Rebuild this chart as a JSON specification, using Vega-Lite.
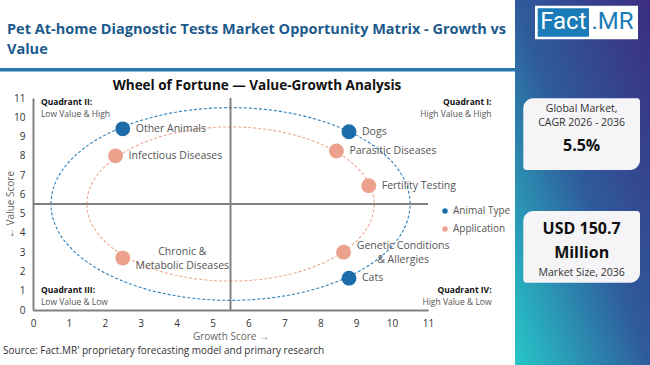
{
  "$schema": "https://vega.github.io/schema/vega-lite/v6.json",
  "padding": 0,
  "background": "#ffffff",
  "spacing": 0,
  "title": {"text": ["Pet At-home Diagnostic Tests Market Opportunity Matrix - Growth vs", "Value"], "anchor": "start", "frame": "bounds", "orient": "top", "offset": -58, "dx": 7, "fontSize": 14.5, "fontWeight": "bold", "color": "#1d5a8c", "lineHeight": 20.7},
  "config": {
    "font": "Open Sans",
    "view": {"stroke": null},
    "axis": {"grid": false, "ticks": false, "tickSize": 0, "labelFlush": false, "labelOverlap": false, "labelBound": false, "domainColor": "#808080", "domainWidth": 2, "labelFontSize": 10, "labelColor": "#333333", "labelPadding": 8, "titleFontSize": 10, "titleFontWeight": "normal", "titleColor": "#666666"},
    "axisX": {"titlePadding": 3},
    "axisY": {"titlePadding": -2}
  },
  "datasets": {
    "points": [
      {"label": "Dogs", "type": "Animal Type", "growth": 8.8, "value": 9.25},
      {"label": "Cats", "type": "Animal Type", "growth": 8.8, "value": 1.65},
      {"label": "Other Animals", "type": "Animal Type", "growth": 2.5, "value": 9.4},
      {"label": "Parasitic Diseases", "type": "Application", "growth": 8.45, "value": 8.25},
      {"label": "Fertility Testing", "type": "Application", "growth": 9.35, "value": 6.45},
      {"label": ["Genetic Conditions", "& Allergies"], "type": "Application", "growth": 8.65, "value": 3.0},
      {"label": "Infectious Diseases", "type": "Application", "growth": 2.3, "value": 8.0},
      {"label": ["Chronic &", "Metabolic Diseases"], "type": "Application", "growth": 2.5, "value": 2.7}
    ],
    "quadrants": [
      {"quadrant": "Quadrant I:", "desc": "High Value & High", "growth": 12.77, "value": 10.79},
      {"quadrant": "Quadrant II:", "desc": "Low Value & High", "growth": 0.22, "value": 10.79},
      {"quadrant": "Quadrant III:", "desc": "Low Value & Low", "growth": 0.22, "value": 1.04},
      {"quadrant": "Quadrant IV:", "desc": "High Value & Low", "growth": 12.77, "value": 1.04}
    ],
    "cards": [
      {"card": "CAGR", "caption": ["Global Market,", "CAGR 2026 - 2036"], "main": "5.5%"},
      {"card": "Size", "caption": "Market Size, 2036", "main": ["USD 150.7", "Million"]}
    ]
  },
  "hconcat": [
    {
      "spacing": 0,
      "bounds": "flush",
      "title": {"text": "Source: Fact.MR' proprietary forecasting model and primary research", "orient": "bottom", "anchor": "start", "frame": "bounds", "offset": 5, "dx": 3, "fontSize": 10, "fontWeight": "normal", "color": "#333333"},
      "vconcat": [
        {"width": 515, "height": 68, "data": {"values": []}, "mark": "point"},
        {"width": 515, "height": 3.5, "view": {"fill": "#2a79b3", "stroke": null}, "data": {"values": []}, "mark": "point"},
        {"width": 515, "height": 25.5, "data": {"values": []}, "mark": "point"},
        {
          "spacing": 0,
          "bounds": "flush",
          "hconcat": [
            {"width": 33, "height": 212, "data": {"values": []}, "mark": "point"},
            {
              "width": 395,
              "height": 212,
              "title": {"text": "Wheel of Fortune — Value-Growth Analysis", "anchor": "middle", "frame": "group", "orient": "top", "dx": 26.5, "offset": 1, "fontSize": 13.5, "fontWeight": "bold", "color": "#111111"},
              "encoding": {
                "x": {"field": "growth", "type": "quantitative", "scale": {"domain": [0, 11], "nice": false, "zero": false}, "axis": {"title": "Growth Score →", "values": [0, 1, 2, 3, 4, 5, 6, 7, 8, 9, 10, 11], "labelOverlap": false}},
                "y": {"field": "value", "type": "quantitative", "scale": {"domain": [0, 11], "nice": false, "zero": false}, "axis": {"title": "← Value Score", "values": [0, 1, 2, 3, 4, 5, 6, 7, 8, 9, 10, 11], "labelOverlap": false}}
              },
              "layer": [
                {
                  "data": {"values": [{"ring": "Animal Type", "growth": 5.5, "value": 5.5}]},
                  "mark": {"type": "point", "shape": "M-1,0A1,0.5367,0,1,1,1,0A1,0.5367,0,1,1,-1,0Z", "size": 128953, "filled": false, "color": "#2f80bd", "strokeWidth": 1.1, "strokeDash": [3, 2], "opacity": 1}
                },
                {
                  "data": {"values": [{"ring": "Application", "growth": 5.5, "value": 5.5}]},
                  "mark": {"type": "point", "shape": "M-1,0A1,0.5367,0,1,1,1,0A1,0.5367,0,1,1,-1,0Z", "size": 82526, "filled": false, "color": "#efa892", "strokeWidth": 1.1, "strokeDash": [3, 2], "opacity": 1}
                },
                {
                  "data": {"values": [{"line": "vertical", "growth": 5.5, "value": 0, "value_end": 11}]},
                  "mark": {"type": "rule", "color": "#808080", "strokeWidth": 2},
                  "encoding": {"y2": {"field": "value_end"}}
                },
                {
                  "data": {"values": [{"line": "horizontal", "growth": 0, "growth_end": 11, "value": 5.5}]},
                  "mark": {"type": "rule", "color": "#808080", "strokeWidth": 2},
                  "encoding": {"x2": {"field": "growth_end"}}
                },
                {
                  "data": {"name": "points"},
                  "mark": {"type": "circle", "size": 220, "opacity": 1},
                  "encoding": {
                    "color": {"field": "type", "type": "nominal", "scale": {"domain": ["Animal Type", "Application"], "range": ["#1c6ca9", "#eba18b"]},
                      "legend": {"title": null, "orient": "none", "legendX": 440, "legendY": 206, "symbolType": "circle", "symbolSize": 30, "symbolStrokeWidth": 0, "labelFontSize": 10, "labelColor": "#555555", "rowPadding": 8, "labelOffset": 3, "padding": 0}}
                  }
                },
                {
                  "data": {"name": "points"},
                  "transform": [{"filter": "!isArray(datum.label)"}],
                  "mark": {"type": "text", "align": "left", "baseline": "middle", "dx": 13, "fontSize": 10.5, "color": "#555555"},
                  "encoding": {"text": {"field": "label"}}
                },
                {
                  "data": {"name": "points"},
                  "transform": [{"filter": "isArray(datum.label)"}],
                  "mark": {"type": "text", "align": "center", "baseline": "middle", "dx": 59.5, "dy": -6, "lineHeight": 14, "fontSize": 10.5, "color": "#555555"},
                  "encoding": {"text": {"field": "label"}}
                },
                {
                  "data": {"name": "quadrants"},
                  "transform": [{"filter": "datum.growth < 5.5"}],
                  "mark": {"type": "text", "align": "left", "baseline": "middle", "fontSize": 8.5, "fontWeight": "bold", "color": "#111111"},
                  "encoding": {"text": {"field": "quadrant"}}
                },
                {
                  "data": {"name": "quadrants"},
                  "transform": [{"filter": "datum.growth > 5.5"}],
                  "mark": {"type": "text", "align": "right", "baseline": "middle", "fontSize": 8.5, "fontWeight": "bold", "color": "#111111"},
                  "encoding": {"text": {"field": "quadrant"}}
                },
                {
                  "data": {"name": "quadrants"},
                  "transform": [{"filter": "datum.growth < 5.5"}],
                  "mark": {"type": "text", "align": "left", "baseline": "middle", "dy": 12, "fontSize": 8.5, "color": "#555555"},
                  "encoding": {"text": {"field": "desc"}}
                },
                {
                  "data": {"name": "quadrants"},
                  "transform": [{"filter": "datum.growth > 5.5"}],
                  "mark": {"type": "text", "align": "right", "baseline": "middle", "dy": 12, "fontSize": 8.5, "color": "#555555"},
                  "encoding": {"text": {"field": "desc"}}
                }
              ]
            }
          ]
        }
      ]
    },
    {
      "width": 135,
      "height": 365,
      "view": {"stroke": null, "fill": {"gradient": "linear", "x1": 1, "y1": 0, "x2": 0, "y2": 1, "stops": [{"offset": 0, "color": "#3b2c82"}, {"offset": 0.5, "color": "#2f5b9c"}, {"offset": 1, "color": "#27c7c9"}]}},
      "resolve": {"scale": {"x": "independent", "y": "independent"}},
      "layer": [
        {
          "data": {"values": [{"part": ".MR"}]},
          "encoding": {
            "x": {"datum": "logo", "type": "nominal", "scale": {"type": "band", "domain": ["logo"], "paddingInner": 0, "paddingOuter": 0.1553, "align": 0.625}, "axis": null},
            "y": {"datum": "logo", "type": "nominal", "scale": {"type": "band", "domain": ["logo", "rest"], "paddingInner": 0.8784, "paddingOuter": 0.1, "align": 0.1032}, "axis": null}
          },
          "layer": [
            {"mark": {"type": "rect", "color": "#ffffff"}},
            {"mark": {"type": "text", "dx": 26, "fontSize": 24, "font": "Roboto", "color": "#1b7bb8", "baseline": "middle", "align": "center"}, "encoding": {"text": {"field": "part"}}}
          ]
        },
        {
          "data": {"values": [{"part": "Fact"}]},
          "encoding": {
            "x": {"datum": "logo", "type": "nominal", "scale": {"type": "band", "domain": ["logo"], "paddingInner": 0, "paddingOuter": 0.8158, "align": 0.2712}, "axis": null},
            "y": {"datum": "logo", "type": "nominal", "scale": {"type": "band", "domain": ["logo", "rest"], "paddingInner": 0.8988, "paddingOuter": 0.1, "align": 0.148}, "axis": null}
          },
          "layer": [
            {"mark": {"type": "rect", "color": "#1b7bb8"}},
            {"mark": {"type": "text", "fontSize": 24, "font": "Roboto", "color": "#ffffff", "baseline": "middle", "align": "center"}, "encoding": {"text": {"field": "part"}}}
          ]
        },
        {
          "data": {"name": "cards"},
          "encoding": {
            "x": {"datum": "card", "type": "nominal", "scale": {"type": "band", "domain": ["card"], "paddingInner": 0, "paddingOuter": 0.0784, "align": 0.4536}, "axis": null},
            "y": {"field": "card", "type": "nominal", "scale": {"type": "band", "domain": ["CAGR", "Size"], "paddingInner": 0.3638, "paddingOuter": 0.80125, "align": 0.5443}, "axis": null}
          },
          "layer": [
            {"mark": {"type": "rect", "color": "#f5f5f7", "cornerRadiusTopLeft": 10, "cornerRadiusBottomRight": 10, "cornerRadiusTopRight": 3, "cornerRadiusBottomLeft": 3}},
            {"transform": [{"filter": "datum.card === 'CAGR'"}], "mark": {"type": "text", "dy": -24.9, "fontSize": 10.5, "lineHeight": 13.4, "color": "#333333", "baseline": "middle"}, "encoding": {"text": {"field": "caption"}}},
            {"transform": [{"filter": "datum.card === 'CAGR'"}], "mark": {"type": "text", "dy": 11.5, "fontSize": 16, "fontWeight": "bold", "color": "#111111", "baseline": "middle"}, "encoding": {"text": {"field": "main"}}},
            {"transform": [{"filter": "datum.card === 'Size'"}], "mark": {"type": "text", "dy": -17.9, "fontSize": 16, "lineHeight": 23.7, "fontWeight": "bold", "color": "#111111", "baseline": "middle"}, "encoding": {"text": {"field": "main"}}},
            {"transform": [{"filter": "datum.card === 'Size'"}], "mark": {"type": "text", "dy": 26, "fontSize": 10.5, "color": "#333333", "baseline": "middle"}, "encoding": {"text": {"field": "caption"}}}
          ]
        }
      ]
    }
  ]
}
